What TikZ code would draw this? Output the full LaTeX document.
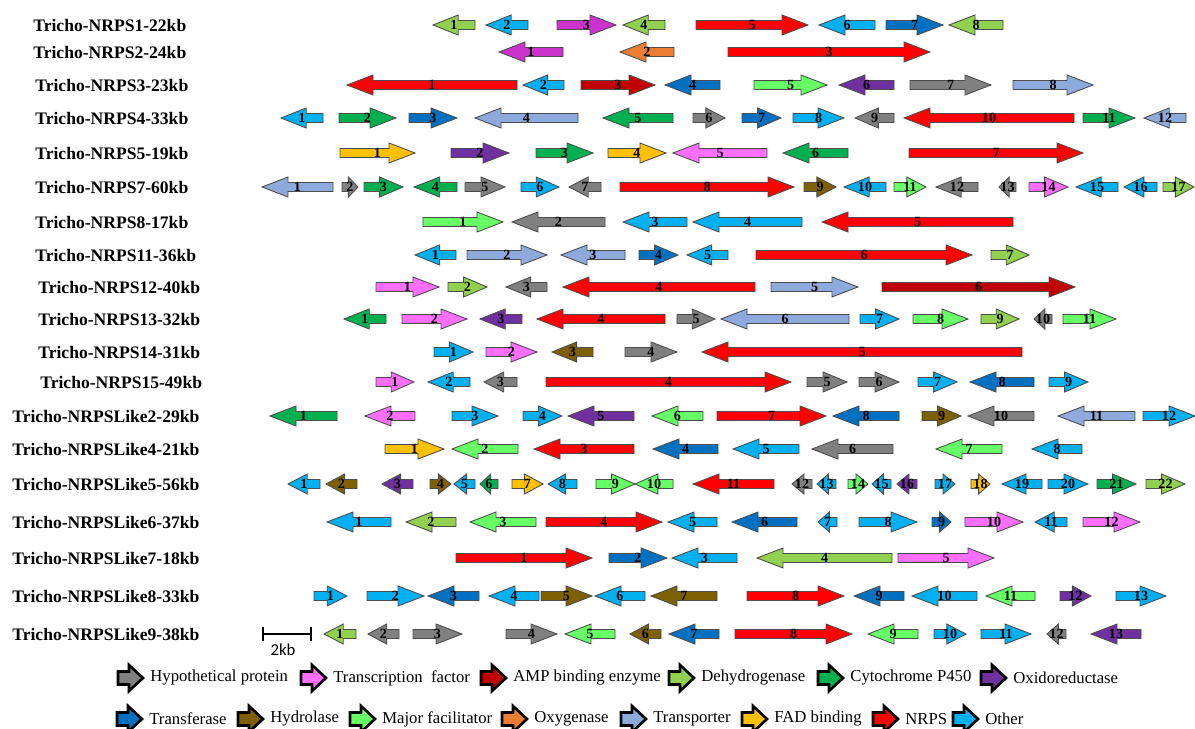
\documentclass[tikz,border=0pt]{standalone}
\usepackage{fontspec}
\setmainfont{Liberation Serif}
\newfontfamily\barfont{Carlito}
\usepackage{tikz}
\usetikzlibrary{arrows}

\definecolor{hypo}{HTML}{808080}
\definecolor{tf}{HTML}{FF6FFF}
\definecolor{amp}{HTML}{C00000}
\definecolor{dehyd}{HTML}{92D050}
\definecolor{cyp}{HTML}{00B050}
\definecolor{oxred}{HTML}{7030A0}
\definecolor{trans}{HTML}{0070C0}
\definecolor{hydro}{HTML}{7F6000}
\definecolor{mfs}{HTML}{66FF66}
\definecolor{oxy}{HTML}{ED7D31}
\definecolor{tport}{HTML}{8EA9DB}
\definecolor{fad}{HTML}{FFC000}
\definecolor{nrps}{HTML}{FF0000}
\definecolor{other}{HTML}{00B0F0}
\definecolor{magen}{HTML}{CC33CC}

\tikzset{
  genearrow/.style={draw=black!70, line width=0.5pt},
  genelab/.style={font=\bfseries\fontsize{8}{9}\selectfont, inner sep=0pt},
  rowlab/.style={font=\bfseries\fontsize{10}{12}\selectfont, anchor=west, inner sep=0pt},
  keyarrow/.style={draw=black, line width=1.5pt},
  keytext/.style={font=\fontsize{9.5}{11}\selectfont, anchor=west, inner sep=0pt}
}

% cluster row: name, x of label, y of row, label
\newcommand{\cluster}[4]{%
  \node[rowlab] (#1) at (#2,#3) {#4};
  \def\rowid{#1}\def\rowy{#3}}
% gene: tail x, tip x, colour, number
\newcommand{\gene}[4]{%
  \pgfmathsetmacro{\nk}{#2-ifthenelse(#2>#1,1,-1)*min(26,0.6*abs(#2-#1))}
  \draw[genearrow, fill=#3] (#1,\rowy-4.5) -- (\nk,\rowy-4.5) -- (\nk,\rowy-10) -- (#2,\rowy)
    -- (\nk,\rowy+10) -- (\nk,\rowy+4.5) -- (#1,\rowy+4.5) -- cycle;
  \node[genelab] (\rowid-#4) at ({(#1+#2)/2},\rowy) {#4};}
% legend entry: name, x, y, colour, text
\newcommand{\keyitem}[5]{%
  \draw[keyarrow, fill=#4] (#2,#3-6.5) -- (#2+11,#3-6.5) -- (#2+11,#3-13) -- (#2+25,#3)
    -- (#2+11,#3+13) -- (#2+11,#3+6.5) -- (#2,#3+6.5) -- cycle;
  \node[keytext] (#1) at (#2+32,#3) {#5};}

\begin{document}
\begin{tikzpicture}[x=0.02cm, y=-0.02cm]
\useasboundingbox (0,0) rectangle (1195,729);

\cluster{r1}{33}{25}{Tricho-NRPS1-22kb}
\gene{475}{433}{dehyd}{1} \gene{528}{486}{other}{2} \gene{557}{616}{magen}{3} \gene{665}{623}{dehyd}{4}
\gene{696}{808}{nrps}{5} \gene{875}{819}{other}{6} \gene{886}{943}{trans}{7} \gene{1003}{949}{dehyd}{8}

\cluster{r2}{33}{52}{Tricho-NRPS2-24kb}
\gene{563}{499}{magen}{1} \gene{674}{620}{oxy}{2} \gene{728}{930}{nrps}{3}

\cluster{r3}{35}{85}{Tricho-NRPS3-23kb}
\gene{517}{347}{nrps}{1} \gene{564}{523}{other}{2} \gene{581}{655}{amp}{3} \gene{720}{665}{trans}{4}
\gene{754}{827}{mfs}{5} \gene{894}{839}{oxred}{6} \gene{910}{991}{hypo}{7} \gene{1013}{1093}{tport}{8}

\cluster{r4}{35}{118}{Tricho-NRPS4-33kb}
\gene{323}{281}{other}{1} \gene{339}{396}{cyp}{2} \gene{409}{457}{trans}{3} \gene{578}{475}{tport}{4}
\gene{673}{603}{cyp}{5} \gene{693}{725}{hypo}{6} \gene{742}{781}{trans}{7} \gene{793}{844}{other}{8}
\gene{894}{855}{hypo}{9} \gene{1074}{904}{nrps}{10} \gene{1083}{1135}{cyp}{11} \gene{1186}{1144}{tport}{12}

\cluster{r5}{35}{153}{Tricho-NRPS5-19kb}
\gene{340}{415}{fad}{1} \gene{451}{509}{oxred}{2} \gene{536}{593}{cyp}{3} \gene{608}{666}{fad}{4}
\gene{767}{673}{tf}{5} \gene{848}{783}{cyp}{6} \gene{909}{1083}{nrps}{7}

\cluster{r6}{35}{187}{Tricho-NRPS7-60kb}
\gene{333}{262}{tport}{1} \gene{342}{358}{hypo}{2} \gene{364}{403}{cyp}{3} \gene{457}{414}{cyp}{4}
\gene{465}{505}{hypo}{5} \gene{521}{559}{other}{6} \gene{601}{569}{hypo}{7} \gene{620}{794}{nrps}{8}
\gene{804}{836}{hydro}{9} \gene{886}{844}{other}{10} \gene{894}{926}{mfs}{11} \gene{978}{936}{hypo}{12}
\gene{1016}{999}{hypo}{13} \gene{1029}{1068}{tf}{14} \gene{1118}{1076}{other}{15} \gene{1157}{1124}{other}{16}
\gene{1163}{1194}{dehyd}{17}

\cluster{r7}{35}{222}{Tricho-NRPS8-17kb}
\gene{423}{503}{mfs}{1} \gene{605}{512}{hypo}{2} \gene{687}{623}{other}{3} \gene{802}{693}{other}{4}
\gene{1013}{822}{nrps}{5}

\cluster{r8}{35}{255}{Tricho-NRPS11-36kb}
\gene{456}{415}{other}{1} \gene{467}{547}{tport}{2} \gene{625}{561}{tport}{3} \gene{639}{678}{trans}{4}
\gene{728}{687}{other}{5} \gene{756}{972}{nrps}{6} \gene{991}{1029}{dehyd}{7}

\cluster{r9}{38}{287}{Tricho-NRPS12-40kb}
\gene{376}{439}{tf}{1} \gene{448}{487}{dehyd}{2} \gene{547}{506}{hypo}{3} \gene{755}{563}{nrps}{4}
\gene{771}{858}{tport}{5} \gene{882}{1075}{amp}{6}

\cluster{r10}{38}{319}{Tricho-NRPS13-32kb}
\gene{386}{344}{cyp}{1} \gene{402}{467}{tf}{2} \gene{522}{480}{oxred}{3} \gene{665}{537}{nrps}{4}
\gene{677}{715}{hypo}{5} \gene{849}{721}{tport}{6} \gene{860}{899}{other}{7} \gene{913}{968}{mfs}{8}
\gene{981}{1019}{dehyd}{9} \gene{1052}{1034}{hypo}{10} \gene{1063}{1116}{mfs}{11}

\cluster{r11}{38}{352}{Tricho-NRPS14-31kb}
\gene{434}{473}{other}{1} \gene{486}{537}{tf}{2} \gene{593}{552}{hydro}{3} \gene{625}{677}{hypo}{4}
\gene{1022}{702}{nrps}{5}

\cluster{r12}{40}{382}{Tricho-NRPS15-49kb}
\gene{376}{414}{tf}{1} \gene{470}{428}{other}{2} \gene{517}{484}{hypo}{3} \gene{546}{791}{nrps}{4}
\gene{807}{847}{hypo}{5} \gene{859}{899}{hypo}{6} \gene{918}{957}{other}{7} \gene{1034}{970}{trans}{8}
\gene{1049}{1088}{other}{9}

\cluster{r13}{12}{416}{Tricho-NRPSLike2-29kb}
\gene{337}{270}{cyp}{1} \gene{415}{365}{tf}{2} \gene{452}{498}{other}{3} \gene{523}{562}{other}{4}
\gene{634}{568}{oxred}{5} \gene{703}{652}{mfs}{6} \gene{717}{826}{nrps}{7} \gene{899}{833}{trans}{8}
\gene{922}{961}{hydro}{9} \gene{1034}{968}{hypo}{10} \gene{1135}{1058}{tport}{11} \gene{1143}{1195}{other}{12}

\cluster{r14}{12}{449}{Tricho-NRPSLike4-21kb}
\gene{385}{444}{fad}{1} \gene{518}{452}{mfs}{2} \gene{634}{534}{nrps}{3} \gene{718}{653}{trans}{4}
\gene{799}{733}{other}{5} \gene{893}{812}{hypo}{6} \gene{1002}{936}{mfs}{7} \gene{1082}{1032}{other}{8}

\cluster{r15}{12}{484}{Tricho-NRPSLike5-56kb}
\gene{320}{288}{other}{1} \gene{357}{326}{hydro}{2} \gene{413}{382}{oxred}{3} \gene{430}{451}{hydro}{4}
\gene{475}{454}{other}{5} \gene{498}{480}{cyp}{6} \gene{512}{543}{fad}{7} \gene{577}{548}{other}{8}
\gene{596}{635}{mfs}{9} \gene{673}{635}{mfs}{10} \gene{774}{693}{nrps}{11} \gene{812}{792}{hypo}{12}
\gene{836}{817}{other}{13} \gene{848}{868}{mfs}{14} \gene{891}{872}{other}{15} \gene{917}{897}{oxred}{16}
\gene{935}{955}{other}{17} \gene{971}{990}{fad}{18} \gene{1042}{1002}{other}{19} \gene{1048}{1088}{other}{20}
\gene{1097}{1136}{cyp}{21} \gene{1146}{1185}{dehyd}{22}

\cluster{r16}{12}{522}{Tricho-NRPSLike6-37kb}
\gene{391}{327}{other}{1} \gene{456}{406}{dehyd}{2} \gene{536}{470}{mfs}{3} \gene{546}{662}{nrps}{4}
\gene{717}{668}{other}{5} \gene{797}{732}{trans}{6} \gene{837}{818}{other}{7} \gene{859}{917}{other}{8}
\gene{932}{951}{trans}{9} \gene{965}{1023}{tf}{10} \gene{1067}{1035}{other}{11} \gene{1083}{1140}{tf}{12}

\cluster{r17}{12}{558}{Tricho-NRPSLike7-18kb}
\gene{456}{592}{nrps}{1} \gene{609}{667}{trans}{2} \gene{737}{672}{other}{3} \gene{892}{757}{dehyd}{4}
\gene{898}{994}{tf}{5}

\cluster{r18}{12}{596}{Tricho-NRPSLike8-33kb}
\gene{314}{347}{other}{1} \gene{367}{424}{other}{2} \gene{479}{428}{trans}{3} \gene{539}{489}{other}{4}
\gene{541}{592}{hydro}{5} \gene{645}{595}{other}{6} \gene{717}{651}{hydro}{7} \gene{747}{844}{nrps}{8}
\gene{904}{854}{trans}{9} \gene{977}{912}{other}{10} \gene{1035}{986}{mfs}{11} \gene{1060}{1091}{oxred}{12}
\gene{1116}{1166}{other}{13}

\cluster{r19}{12}{634}{Tricho-NRPSLike9-38kb}
\gene{356}{324}{dehyd}{1} \gene{399}{368}{hypo}{2} \gene{413}{462}{hypo}{3} \gene{506}{557}{hypo}{4}
\gene{615}{565}{mfs}{5} \gene{661}{630}{hydro}{6} \gene{719}{669}{trans}{7} \gene{735}{852}{nrps}{8}
\gene{918}{868}{mfs}{9} \gene{934}{966}{other}{10} \gene{981}{1031}{other}{11} \gene{1066}{1047}{hypo}{12}
\gene{1141}{1091}{oxred}{13}

\coordinate (bar1) at (262,634);
\coordinate (bar2) at (312,634);
\draw[|-|, line width=0.9pt] (bar1) -- (bar2);
\node[font=\barfont\fontsize{9.5}{11}\selectfont] (kb) at (283,650) {2kb};

\keyitem{k1}{118}{678}{hypo}{Hypothetical protein}
\keyitem{k2}{301}{678}{tf}{Transcription\ \ factor}
\keyitem{k3}{481}{678}{amp}{AMP binding enzyme}
\keyitem{k4}{669}{678}{dehyd}{Dehydrogenase}
\keyitem{k5}{818}{678}{cyp}{Cytochrome P450}
\keyitem{k6}{981}{678}{oxred}{Oxidoreductase}
\keyitem{k7}{117}{719}{trans}{Transferase}
\keyitem{k8}{238}{719}{hydro}{Hydrolase}
\keyitem{k9}{350}{719}{mfs}{Major facilitator}
\keyitem{k10}{502}{719}{oxy}{Oxygenase}
\keyitem{k11}{621}{719}{tport}{Transporter}
\keyitem{k12}{742}{719}{fad}{FAD binding}
\keyitem{k13}{873}{719}{nrps}{NRPS}
\keyitem{k14}{953}{719}{other}{Other}
\end{tikzpicture}
\end{document}
